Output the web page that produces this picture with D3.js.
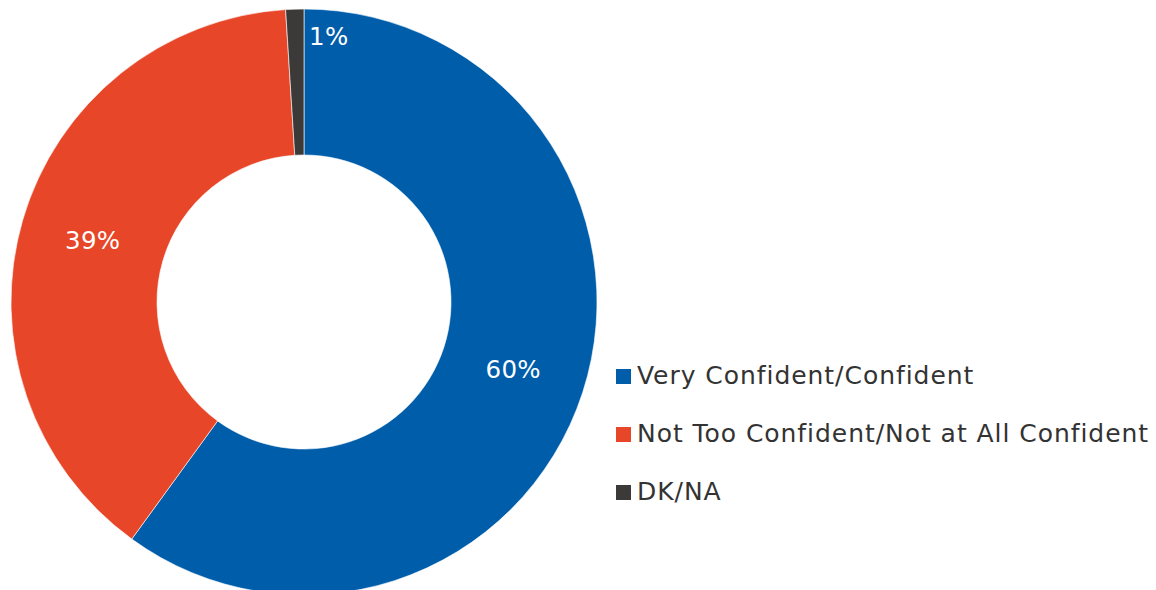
<!DOCTYPE html>
<html>
<head>
<meta charset="utf-8">
<script src="https://cdn.jsdelivr.net/npm/d3@7/dist/d3.min.js"></script>
<style>
  html, body { margin: 0; padding: 0; background: #fff; }
  svg { display: block; }
  text { font-family: "DejaVu Sans", "Liberation Sans", Arial, sans-serif; }
</style>
</head>
<body>
<svg id="chart" width="1156" height="590"></svg>
<script>
// Survey responses: confidence level
const categories = ["Very Confident/Confident", "Not Too Confident/Not at All Confident", "DK/NA"];
const values = [60, 39, 1];
const valueLabels = ["60%", "39%", "1%"];
const colors = ["#005DAA", "#E84628", "#3B3A39"];

const svg = d3.select("#chart");

const cx = 304, cy = 302;
const outerR = 293, innerR = 147;

const data = categories.map((c, i) => ({ name: c, value: values[i], label: valueLabels[i], color: colors[i] }));

const pie = d3.pie().value(d => d.value).sort(null);
const arcs = pie(data);

const arc = d3.arc().innerRadius(innerR).outerRadius(outerR);
const labelArc = d3.arc().innerRadius((innerR + outerR) / 2).outerRadius((innerR + outerR) / 2);

const g = svg.append("g").attr("transform", `translate(${cx},${cy})`);

g.selectAll("path.slice")
  .data(arcs)
  .join("path")
  .attr("class", "slice")
  .attr("d", arc)
  .attr("fill", d => d.data.color)
  .attr("stroke", "#ffffff")
  .attr("stroke-width", 0.6);

// Value labels: the thin slice gets its label pushed just past its end edge
g.selectAll("text.val")
  .data(arcs)
  .join("text")
  .attr("class", "val")
  .attr("fill", "#ffffff")
  .attr("font-size", 24.5)
  .attr("letter-spacing", 0.3)
  .attr("dominant-baseline", "central")
  .each(function(d) {
    const t = d3.select(this);
    if (d.data.value < 5) {
      const r = outerR - 26;
      const a = d.endAngle;
      t.attr("x", Math.sin(a) * r + 5)
       .attr("y", -Math.cos(a) * r + 1)
       .attr("text-anchor", "start");
    } else {
      const [x, y] = labelArc.centroid(d);
      t.attr("x", x).attr("y", y).attr("text-anchor", "middle");
    }
  })
  .text(d => d.data.label);

// Legend
const legendX = 616, legendY0 = 384, legendStep = 58, sw = 15;
const leg = svg.append("g");
const items = leg.selectAll("g.item")
  .data(data)
  .join("g")
  .attr("class", "item")
  .attr("transform", (d, i) => `translate(${legendX},${legendY0 + i * legendStep})`);

items.append("rect")
  .attr("x", 0)
  .attr("y", -sw)
  .attr("width", sw)
  .attr("height", sw)
  .attr("fill", d => d.color);

items.append("text")
  .attr("x", 21)
  .attr("y", 0)
  .attr("font-size", 25)
  .attr("letter-spacing", 0.95)
  .attr("fill", "#333333")
  .text(d => d.name);
</script>
</body>
</html>
